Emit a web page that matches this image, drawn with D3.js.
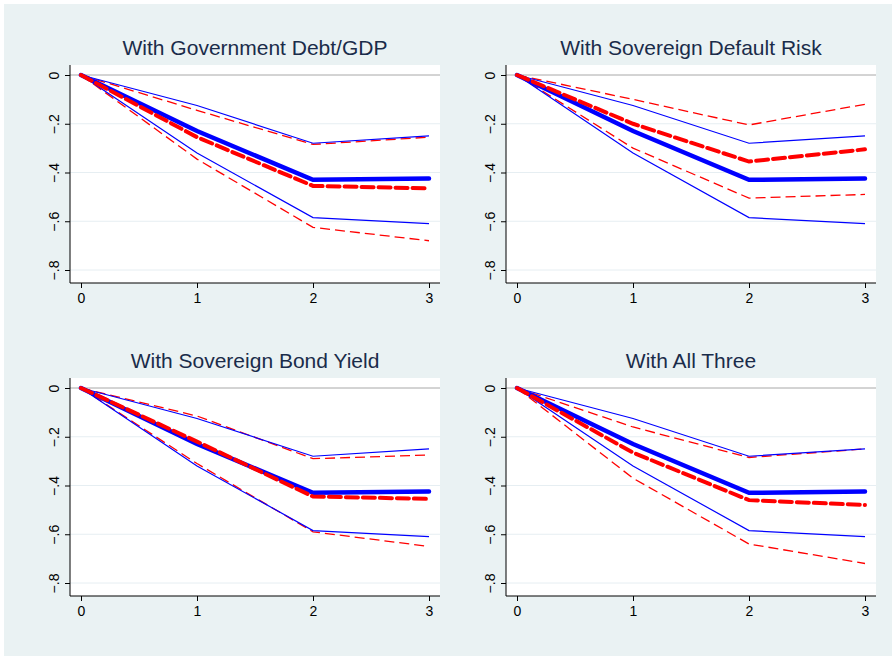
<!DOCTYPE html>
<html><head><meta charset="utf-8">
<script src="https://cdn.jsdelivr.net/npm/d3@7"></script>
<style>body{margin:0;background:#fff}</style>
</head><body>
<svg id="c" width="896" height="660"></svg>
<script>
// periods and y ticks
const periods = [0, 1, 2, 3];
const yTicks = [0, -0.2, -0.4, -0.6, -0.8];
const titles = ["With Government Debt/GDP", "With Sovereign Default Risk", "With Sovereign Bond Yield", "With All Three"];

// baseline (blue) is the same in every panel
const baseMid = [0, -0.23, -0.43, -0.425];
const baseUp  = [0, -0.125, -0.28, -0.25];
const baseLow = [0, -0.32, -0.585, -0.61];

// augmented (red) per panel
const redMid = [[0,-0.255,-0.455,-0.465],[0,-0.2,-0.355,-0.305],[0,-0.22,-0.445,-0.455],[0,-0.265,-0.46,-0.48]];
const redUp  = [[0,-0.145,-0.285,-0.255],[0,-0.1,-0.205,-0.12],[0,-0.115,-0.29,-0.275],[0,-0.16,-0.285,-0.25]];
const redLow = [[0,-0.345,-0.625,-0.68],[0,-0.3,-0.505,-0.49],[0,-0.31,-0.59,-0.65],[0,-0.37,-0.64,-0.72]];

const svg = d3.select("#c");
svg.append("rect").attr("x",4).attr("y",4).attr("width",888).attr("height",652).attr("fill","#eaf2f3");

const origins = [[70,65],[506,65],[70,378],[506,378]];
const W = 370, H = 218;

origins.forEach(([ox,oy], i) => {
  const g = svg.append("g").attr("transform",`translate(${ox},${oy})`);
  const x = d3.scaleLinear().domain([0,3]).range([11, 359]);
  const y = d3.scaleLinear().domain([0,-0.8]).range([10, 205]);

  g.append("rect").attr("width",W).attr("height",H).attr("fill","#fff");
  g.selectAll(".grid").data(yTicks.slice(1)).enter().append("line")
    .attr("x1",0).attr("x2",W).attr("y1",d=>y(d)).attr("y2",d=>y(d))
    .attr("stroke","#e6eef2").attr("stroke-width",1);
  g.append("line").attr("x1",0).attr("x2",W).attr("y1",y(0)).attr("y2",y(0))
    .attr("stroke","#a8a8a8").attr("stroke-width",1);

  const ya = g.append("g").call(d3.axisLeft(y).tickValues(yTicks).tickSize(5)
    .tickFormat(d => d === 0 ? "0" : d3.format(".1f")(d).replace("0.", ".")));
  ya.select(".domain").attr("d", `M0,0V${H}`).attr("stroke","#000");
  ya.selectAll("text").attr("transform","rotate(-90)").attr("x",0).attr("y",-16)
    .attr("dy","0.35em").style("text-anchor","middle")
    .style("font-family","Liberation Sans, Arial").style("font-size","14px").attr("fill","#000");

  const xa = g.append("g").attr("transform",`translate(0,${H})`)
    .call(d3.axisBottom(x).tickValues(periods).tickSize(5).tickFormat(d3.format("d")));
  xa.select(".domain").attr("d", `M0,0H${W}`).attr("stroke","#000");
  xa.selectAll("text").attr("y",10).style("font-family","Liberation Sans, Arial").style("font-size","14px").attr("fill","#000");

  g.append("text").attr("x",W/2).attr("y",-10).attr("text-anchor","middle")
    .style("font-family","Liberation Sans, Arial").style("font-size","21px").attr("fill","#1a2c4a")
    .text(titles[i]);

  const line = d3.line().x((d,k)=>x(periods[k])).y(d=>y(d));
  const series = [
    {v: redUp[i], c:"#f00", w:1.3, dash:"10,5"},
    {v: redLow[i], c:"#f00", w:1.3, dash:"10,5"},
    {v: baseUp, c:"#0000ff", w:1.2, dash:null},
    {v: baseLow, c:"#0000ff", w:1.2, dash:null},
    {v: baseMid, c:"#0000ff", w:4.5, dash:null},
    {v: redMid[i], c:"#f00", w:4, dash:"12,5"}
  ];
  series.forEach(s => {
    g.append("path").datum(s.v).attr("d", line).attr("fill","none")
      .attr("stroke", s.c).attr("stroke-width", s.w)
      .attr("stroke-dasharray", s.dash).attr("stroke-linecap", s.w > 3 ? "round" : "butt");
  });
});
</script>
</body></html>
